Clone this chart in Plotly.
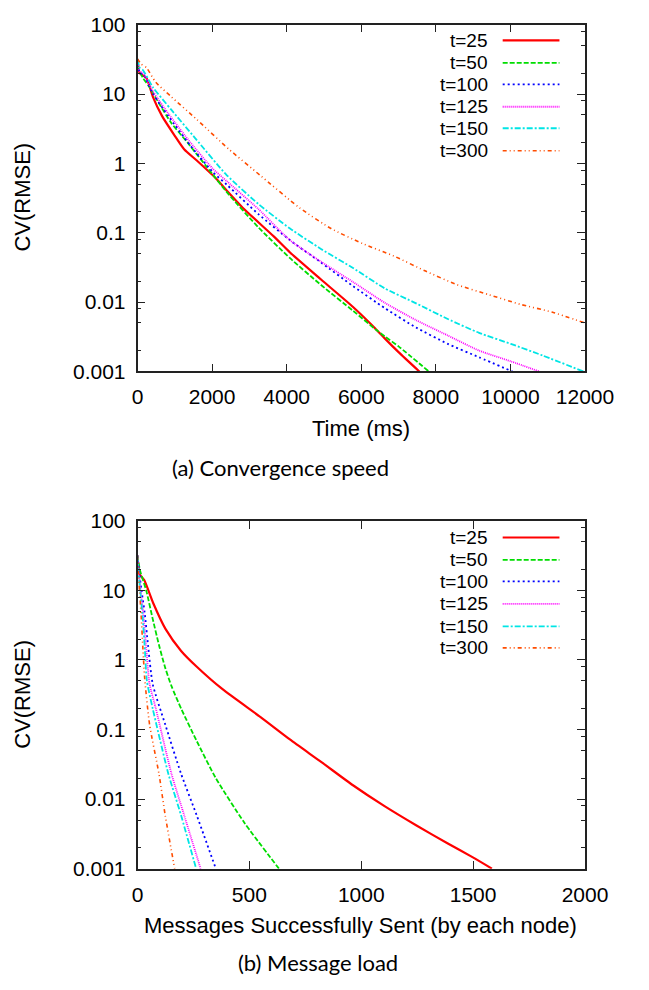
import plotly.graph_objects as go

W, H = 649, 990

labels = ["t=25", "t=50", "t=100", "t=125", "t=150", "t=300"]
colors = ["#ff0000", "#00dd00", "#0000ff", "#ff00ff", "#00e5e5", "#ff4d00"]
dashes = ["solid", "5px,2px", "2px,3px", "1px,1px", "6px,2px,2px,2px", "4px,3px,1px,3px,1px,3px"]
widths = [2.2, 1.8, 1.8, 1.8, 1.8, 1.6]

# ---- (a) Convergence speed: x = Time (ms), y = CV(RMSE)
time_x = [
    [0, 60, 240, 410, 660, 1000, 1250, 1590, 2100, 2440, 2820, 3660, 4090, 4930, 5780, 6370, 6630, 7000, 7557],
    [0, 40, 150, 320, 580, 910, 1340, 1850, 2440, 3240, 4090, 4930, 5780, 6370, 6630, 7000, 7811],
    [0, 60, 150, 410, 830, 1420, 2010, 2400, 3240, 4090, 4930, 5780, 6630, 7470, 8320, 9160, 10053],
    [0, 60, 150, 410, 830, 1420, 2010, 2400, 3240, 4090, 4930, 5780, 6630, 7470, 8320, 9160, 10010, 10772],
    [0, 60, 150, 410, 910, 1550, 2390, 3240, 4090, 4930, 5780, 6630, 7470, 8320, 9160, 10010, 10860, 11957],
    [0, 100, 240, 490, 910, 1590, 2440, 3280, 4340, 5190, 6030, 6880, 7725, 8570, 9420, 10260, 11110, 12000],
]
time_y = [
    [32, 20, 17, 9.2, 4.8, 2.5, 1.6, 1.1, 0.61, 0.38, 0.23, 0.088, 0.052, 0.021, 0.0085, 0.0042, 0.003, 0.0019, 0.001],
    [32, 22, 17, 12.6, 7.3, 3.8, 2.0, 0.9, 0.36, 0.12, 0.043, 0.0175, 0.0075, 0.0041, 0.0032, 0.0023, 0.001],
    [32, 20, 19.5, 10.2, 4.8, 1.8, 0.76, 0.49, 0.186, 0.078, 0.037, 0.017, 0.0082, 0.0043, 0.0025, 0.0016, 0.001],
    [32, 21, 20, 11, 5.2, 2.0, 0.85, 0.55, 0.22, 0.078, 0.038, 0.0195, 0.0098, 0.0055, 0.0033, 0.002, 0.0014, 0.001],
    [32, 24, 22, 12.6, 5.9, 2.3, 0.68, 0.26, 0.115, 0.058, 0.031, 0.0158, 0.0096, 0.0057, 0.0036, 0.0025, 0.0017, 0.001],
    [32, 27, 24, 14.8, 9.1, 4.3, 1.62, 0.68, 0.23, 0.115, 0.07, 0.046, 0.028, 0.0178, 0.0128, 0.0093, 0.0072, 0.005],
]

# ---- (b) Message load: x = messages sent per node, y = CV(RMSE)
msg_x = [
    [0, 10, 30, 70, 125, 195, 265, 380, 550, 681, 822, 963, 1104, 1245, 1387, 1499, 1584],
    [0, 11, 39, 68, 96, 124, 152, 195, 265, 350, 477, 632],
    [0, 8, 18, 32, 47, 68, 124, 195, 265, 350],
    [0, 6, 14, 26, 38, 54, 82, 152, 209, 282],
    [0, 5, 12, 22, 32, 42, 68, 138, 195, 262],
    [0, 4, 9, 16, 24, 32, 54, 96, 124, 166],
]
msg_y = [
    [31.6, 17, 14.1, 6.6, 2.8, 1.35, 0.8, 0.38, 0.151, 0.072, 0.034, 0.0158, 0.0079, 0.0042, 0.0023, 0.00145, 0.001],
    [31.6, 19.5, 10, 3.9, 1.64, 0.77, 0.42, 0.2, 0.068, 0.02, 0.0046, 0.001],
    [31.6, 18, 10, 4.8, 1.64, 0.45, 0.118, 0.023, 0.0058, 0.001],
    [31.6, 18, 10, 4.5, 1.6, 0.45, 0.2, 0.023, 0.0058, 0.001],
    [31.6, 18, 10, 4.5, 1.6, 0.5, 0.2, 0.023, 0.0058, 0.001],
    [31.6, 18, 10, 4.5, 1.5, 0.55, 0.118, 0.023, 0.0058, 0.001],
]

y_ticks = [0.001, 0.01, 0.1, 1, 10, 100]
y_ticktext = ["0.001", "0.01", "0.1", "1", "10", "100"]
y_minor = [m * 10 ** e for e in range(-3, 2) for m in (2, 5, 8)]
time_ticks = [0, 2000, 4000, 6000, 8000, 10000, 12000]
msg_ticks = [0, 500, 1000, 1500, 2000]

fig = go.Figure()
for i in range(6):
    fig.add_trace(go.Scatter(x=time_x[i], y=time_y[i], mode="lines", xaxis="x", yaxis="y",
                             line=dict(color=colors[i], dash=dashes[i], width=widths[i], shape="spline", smoothing=0.6),
                             showlegend=False, name=labels[i]))
for i in range(6):
    fig.add_trace(go.Scatter(x=msg_x[i], y=msg_y[i], mode="lines", xaxis="x2", yaxis="y2",
                             line=dict(color=colors[i], dash=dashes[i], width=widths[i], shape="spline", smoothing=0.6),
                             showlegend=False, name=labels[i]))

def px(x):
    return x / W

def py(y):
    return 1 - y / H

tickfont = dict(family="Liberation Sans, Arial, sans-serif", size=21, color="black")
textfont = dict(family="Liberation Sans, Arial, sans-serif", size=22, color="black")
legfont = dict(family="Liberation Sans, Arial, sans-serif", size=19, color="black")
common = dict(showline=True, linecolor="#222", linewidth=1.5, mirror="allticks",
              ticks="inside", ticklen=8, tickwidth=1.2, tickcolor="#222",
              showgrid=False, zeroline=False, tickfont=tickfont, ticklabelstandoff=6)
xdom = [px(139), px(612)]
ycommon = dict(common, type="log", range=[-3, 2], tickvals=y_ticks, ticktext=y_ticktext,
               minor=dict(tickvals=y_minor, ticks="inside", ticklen=4, tickcolor="#222", tickwidth=1))

fig.update_layout(
    width=W, height=H, margin=dict(l=0, r=0, t=0, b=0),
    paper_bgcolor="white", plot_bgcolor="white",
    xaxis=dict(common, domain=xdom, range=[0, 12000], tickvals=time_ticks,
               ticktext=[str(v) for v in time_ticks], anchor="y"),
    yaxis=dict(ycommon, domain=[py(368), py(13)], anchor="x"),
    xaxis2=dict(common, domain=xdom, range=[0, 2000], tickvals=msg_ticks,
                ticktext=[str(v) for v in msg_ticks], anchor="y2"),
    yaxis2=dict(ycommon, domain=[py(877), py(521)], anchor="x2"),
)

ann = []
capfont = dict(family="Lato, Open Sans, sans-serif", size=22, color="black")
ann.append(dict(text="Time (ms)", x=px(375), y=py(426), xref="paper", yref="paper",
                showarrow=False, font=textfont, xanchor="center", yanchor="middle"))
ann.append(dict(text="Messages Successfully Sent (by each node)", x=px(375), y=py(935), xref="paper", yref="paper",
                showarrow=False, font=textfont, xanchor="center", yanchor="middle"))
for yc in (190, 699):
    ann.append(dict(text="CV(RMSE)", x=px(18), y=py(yc), xref="paper", yref="paper", textangle=-90,
                    showarrow=False, font=textfont, xanchor="center", yanchor="middle"))
ann.append(dict(text="(a) Convergence speed", x=px(290), y=py(466), xref="paper", yref="paper",
                showarrow=False, font=capfont, xanchor="center", yanchor="middle"))
ann.append(dict(text="(b) Message load", x=px(330), y=py(973), xref="paper", yref="paper",
                showarrow=False, font=capfont, xanchor="center", yanchor="middle"))

shapes = []
leg_rows = [[29, 52, 74, 97, 119, 142], [538, 561, 583, 606, 629, 651]]
for rows in leg_rows:
    for i, ry in enumerate(rows):
        ann.append(dict(text=labels[i], x=px(512), y=py(ry), xref="paper", yref="paper",
                        showarrow=False, font=legfont, xanchor="right", yanchor="middle"))
        shapes.append(dict(type="line", xref="paper", yref="paper", x0=px(525), x1=px(585),
                           y0=py(ry), y1=py(ry),
                           line=dict(color=colors[i], dash=dashes[i], width=widths[i])))

fig.update_layout(annotations=ann, shapes=shapes)
fig.write_html("out.html")
